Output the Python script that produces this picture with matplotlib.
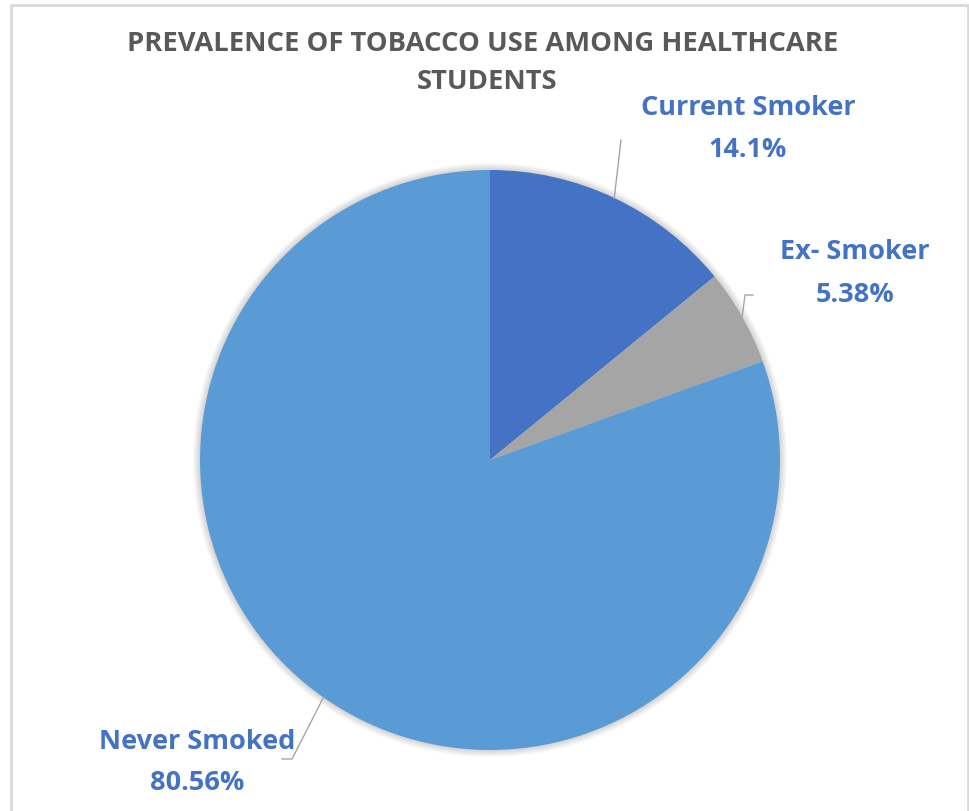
import numpy as np
import matplotlib.pyplot as plt
from matplotlib.patches import Circle

# data
labels = ["Current Smoker", "Ex- Smoker", "Never Smoked"]
values = [14.1, 5.38, 80.56]
pct_text = ["14.1%", "5.38%", "80.56%"]
colors = ["#4472C4", "#A5A5A5", "#5B9BD5"]
title_lines = ["PREVALENCE OF TOBACCO USE AMONG HEALTHCARE", "STUDENTS"]

W, H = 970, 812
fig = plt.figure(figsize=(W / 100, H / 100), dpi=100)
ax = fig.add_axes([0, 0, 1, 1])

cx, cy, r = 490, H - 461, 290

# soft shadow around the pie
for i in range(7, 0, -1):
    ax.add_patch(Circle((cx, cy), r + i, color="black", alpha=0.025, lw=0, zorder=1))

wedges, _ = ax.pie(values, colors=colors, startangle=90, counterclock=False,
                   center=(cx, cy), radius=r, frame=True,
                   wedgeprops=dict(linewidth=0, zorder=2))
ax.set_xlim(0, W)
ax.set_ylim(0, H)
ax.set_aspect("equal")
ax.axis("off")

# border
ax.plot([11, 11, 968, 968], [0, H - 6, H - 6, 0], color="#D9D9D9", lw=2, zorder=0)

font = ["Open Sans", "DejaVu Sans"]
ax.text(483, H - 44, title_lines[0], ha="center", va="center", fontsize=19.7,
        fontweight="bold", color="#595959", family=font)
ax.text(487, H - 82, title_lines[1], ha="center", va="center", fontsize=19.7,
        fontweight="bold", color="#595959", family=font)

# label positions (x, y of name line, y of percent line) and leader elbows
label_pos = [(748, H - 108, H - 150), (855, H - 252, H - 295), (197, H - 742, H - 783)]
elbows = [None, (745, H - 296, 753), (292, H - 760, 282)]

for w, lab, pct, pos, elb in zip(wedges, labels, pct_text, label_pos, elbows):
    ang = np.deg2rad((w.theta1 + w.theta2) / 2)
    ex, ey = cx + r * np.cos(ang), cy + r * np.sin(ang)
    ax.text(pos[0], pos[1], lab, ha="center", va="center", fontsize=19.5,
            fontweight="bold", color="#4472C4", family=font)
    ax.text(pos[0], pos[2], pct, ha="center", va="center", fontsize=19.5,
            fontweight="bold", color="#4472C4", family=font)
    if elb is None:
        ax.plot([ex, 621], [ey, H - 141], color="#A6A6A6", lw=1, zorder=3)
    else:
        ax.plot([ex, elb[0], elb[2]], [ey, elb[1], elb[1]], color="#A6A6A6", lw=1, zorder=3)

fig.savefig("out.png", dpi=100)
